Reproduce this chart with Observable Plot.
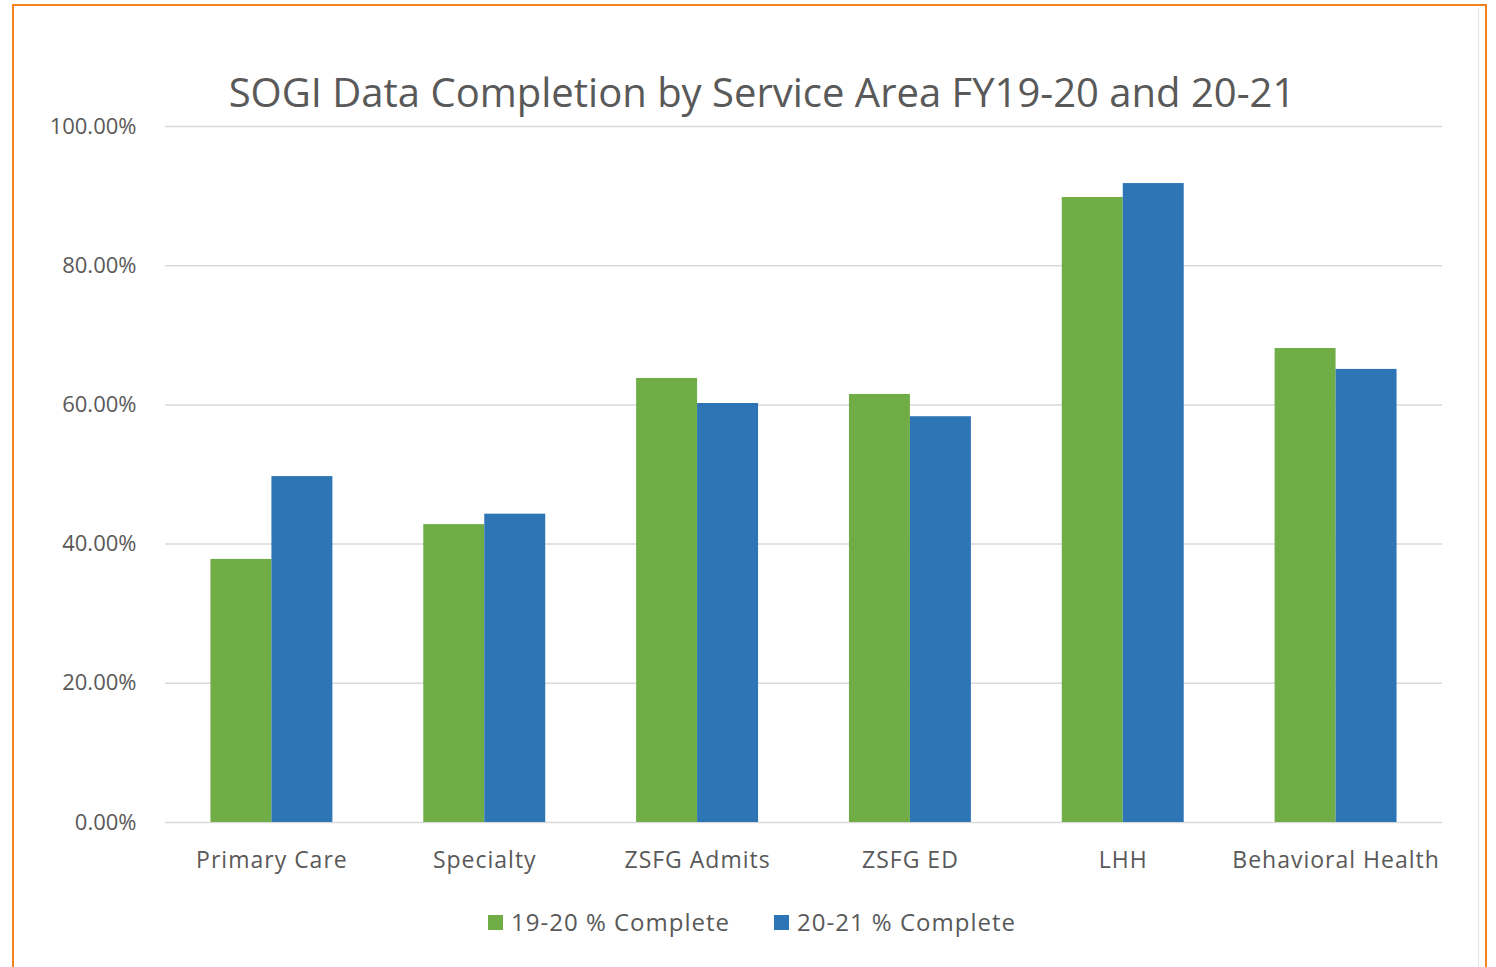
<!DOCTYPE html>
<html>
<head>
<meta charset="utf-8">
<script src="https://cdn.jsdelivr.net/npm/d3@7"></script>
<script src="https://cdn.jsdelivr.net/npm/@observablehq/plot@0.6"></script>
<style>
  html, body { margin: 0; padding: 0; background: #fff; overflow: hidden; }
  body { width: 1496px; height: 967px; position: relative; font-family: "Open Sans", sans-serif; }
  #frame { position: absolute; left: 12px; top: 4px; width: 1475px; height: 1000px; border: 2px solid #f5821f; box-sizing: border-box; }
  #edge { position: absolute; left: 1478px; top: 8px; width: 1px; height: 980px; background: #e4e4e4; }
  #title { position: absolute; left: 0; width: 1524px; top: 64px; text-align: center; font-size: 40px; color: #595959; white-space: nowrap; }
  #chart { position: absolute; left: 0; top: 100px; }
  #chart g[aria-label="x-axis tick label"] text { letter-spacing: 1px; }
  #legend { position: absolute; left: 0; width: 1504px; top: 905px; text-align: center; font-size: 24px; letter-spacing: 1px; color: #595959; white-space: nowrap; }
  .item { display: inline-block; margin: 0 22px; }
  .sw { display: inline-block; width: 15px; height: 15px; margin-right: 8px; vertical-align: 1px; }
</style>
</head>
<body>
<div id="frame"></div>
<div id="edge"></div>
<div id="title">SOGI Data Completion by Service Area FY19-20 and 20-21</div>
<div id="chart"></div>
<div id="legend"></div>
<script>
const categories = ["Primary Care", "Specialty", "ZSFG Admits", "ZSFG ED", "LHH", "Behavioral Health"];
const seriesNames = ["19-20 % Complete", "20-21 % Complete"];
const seriesColors = ["#70ad47", "#2e75b6"];
const values1920 = [0.378, 0.428, 0.638, 0.615, 0.898, 0.681];
const values2021 = [0.497, 0.443, 0.602, 0.583, 0.918, 0.651];
const yTicks = [0, 0.2, 0.4, 0.6, 0.8, 1.0];
const yTickLabels = ["0.00%", "20.00%", "40.00%", "60.00%", "80.00%", "100.00%"];

const data = categories.flatMap((c, i) => [
  {category: c, series: seriesNames[0], value: values1920[i]},
  {category: c, series: seriesNames[1], value: values2021[i]}
]);

const W = 1496, ML = 165, MR = 54;
const paddingInner = 0.427, paddingOuter = 0.2135;
const step = (W - ML - MR) / (categories.length - paddingInner + 2 * paddingOuter);
const half = step * (1 - paddingInner) / 2;

const chart = Plot.plot({
  width: W,
  height: 782,
  marginLeft: ML,
  marginRight: MR,
  marginTop: 26,
  marginBottom: 60,
  style: {fontFamily: "Open Sans, sans-serif", fontSize: "22px", color: "#595959", background: "transparent"},
  x: {domain: categories, paddingInner, paddingOuter, round: false, label: null, tickSize: 0, tickPadding: 29},
  y: {domain: [0, 1], ticks: yTicks, tickFormat: (d) => yTickLabels[yTicks.indexOf(d)], label: null, tickSize: 0, tickPadding: 29},
  color: {domain: seriesNames, range: seriesColors},
  marks: [
    Plot.ruleY(yTicks, {stroke: "#d9d9d9", strokeWidth: 1.5}),
    Plot.barY(data.filter(d => d.series === seriesNames[0]), {x: "category", y: "value", fill: "series", insetRight: half}),
    Plot.barY(data.filter(d => d.series === seriesNames[1]), {x: "category", y: "value", fill: "series", insetLeft: half})
  ]
});
chart.querySelectorAll('g[aria-label="x-axis tick label"] text').forEach(t => t.style.fontSize = "23px");
document.getElementById("chart").appendChild(chart);

const legend = document.getElementById("legend");
seriesNames.forEach((s, i) => {
  const span = document.createElement("span");
  span.className = "item";
  const sw = document.createElement("span");
  sw.className = "sw";
  sw.style.background = seriesColors[i];
  span.appendChild(sw);
  span.appendChild(document.createTextNode(s));
  legend.appendChild(span);
});
</script>
</body>
</html>
